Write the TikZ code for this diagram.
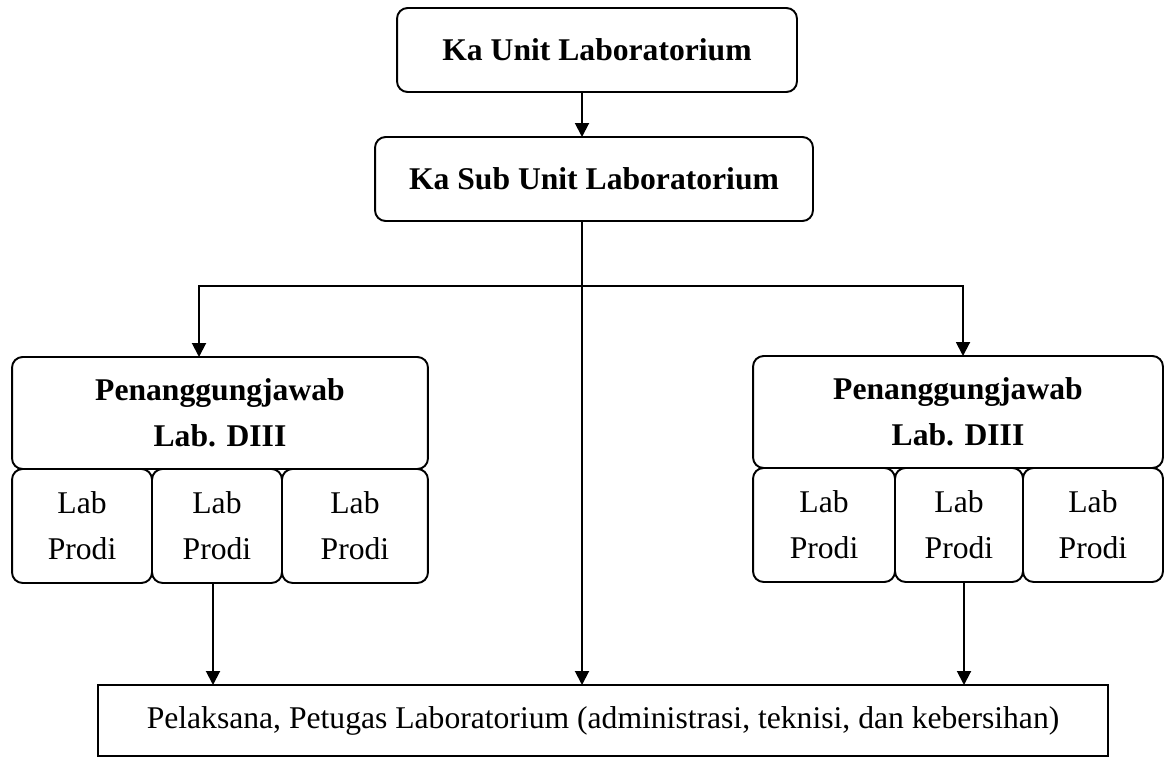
\documentclass[tikz,border=0pt]{standalone}
\usepackage{fontspec}
\setmainfont{Liberation Serif}
\usepackage{tikz}
\usetikzlibrary{arrows.meta,positioning}

\begin{document}
\begin{tikzpicture}[x=0.02cm, y=-0.02cm,
    box/.style={rectangle, draw, rounded corners=6pt, line width=1.1pt,
                inner sep=0pt, outer sep=0pt, align=center,
                font=\fontsize{18}{26}\selectfont\bfseries,
                minimum height=1.68cm},
    lab/.style={box, font=\fontsize{18}{26}\selectfont,
                minimum height=2.28cm},
    plain/.style={rectangle, draw, line width=1.1pt, inner sep=0pt,
                  outer sep=0pt, font=\fontsize{18}{26}\selectfont},
    arrow/.style={-{Triangle[length=0.28cm,width=0.28cm]}, line width=1.1pt},
]
\useasboundingbox (0,0) rectangle (1166,757);

\node[box,minimum width=8cm] (kaunit) at (597,50) {Ka Unit Laboratorium};
\node[box,minimum width=8.76cm] (kasub) at (594,179) {Ka Sub Unit Laboratorium};

% kiri
\node[box,minimum width=8.32cm,minimum height=2.24cm] (pjleft) at (220,413)
    {Penanggungjawab\\Lab. DIII};
\node[lab,minimum width=2.8cm,anchor=north west] (labLa) at (pjleft.south west) {Lab\\Prodi};
\node[lab,minimum width=2.6cm,right=0pt of labLa] (labLb) {Lab\\Prodi};
\node[lab,minimum width=2.92cm,right=0pt of labLb] (labLc) {Lab\\Prodi};

% kanan
\node[box,minimum width=8.2cm,minimum height=2.24cm] (pjright) at (958,412)
    {Penanggungjawab\\Lab. DIII};
\node[lab,minimum width=2.84cm,anchor=north west] (labRa) at (pjright.south west) {Lab\\Prodi};
\node[lab,minimum width=2.56cm,right=0pt of labRa] (labRb) {Lab\\Prodi};
\node[lab,minimum width=2.8cm,right=0pt of labRb] (labRc) {Lab\\Prodi};

\node[plain,minimum width=20.2cm,minimum height=1.42cm] (pelaksana) at (603,720.5)
    {Pelaksana, Petugas Laboratorium (administrasi, teknisi, dan kebersihan)};

\coordinate (spine) at (582,286);

\draw[arrow] (kaunit.south -| spine) -- (kasub.north -| spine);
\draw[arrow] (kasub.south -| spine) -- (pelaksana.north -| spine);
\draw[arrow] (spine) -| ([xshift=-0.42cm]pjleft.north);
\draw[arrow] (spine) -| ([xshift=0.1cm]pjright.north);
\draw[arrow] ([xshift=-0.08cm]labLb.south) -- ([xshift=-0.08cm]labLb.south |- pelaksana.north);
\draw[arrow] ([xshift=0.1cm]labRb.south) -- ([xshift=0.1cm]labRb.south |- pelaksana.north);

\end{tikzpicture}
\end{document}
